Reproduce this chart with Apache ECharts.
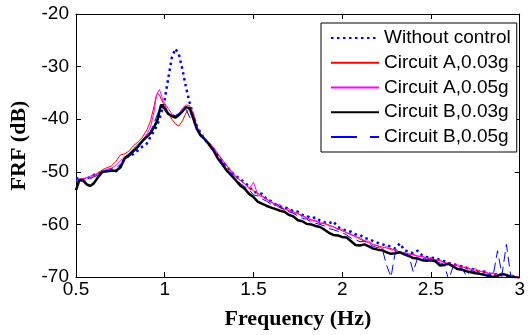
<!DOCTYPE html>
<html>
<head>
<meta charset="utf-8">
<script src="https://cdn.jsdelivr.net/npm/echarts@6/dist/echarts.min.js"></script>
<style>html,body{margin:0;padding:0;background:#fff}#c{width:528px;height:335px}</style>
</head>
<body>
<div id="c"></div>
<script>
var freq = [0.50,0.52,0.54,0.56,0.58,0.60,0.625,0.65,0.675,0.70,0.725,0.75,0.775,0.80,0.825,0.85,0.875,0.90,0.92,0.94,0.95,0.96,0.97,0.98,0.99,1.00,1.02,1.04,1.06,1.08,1.10,1.12,1.14,1.16,1.18,1.20,1.225,1.25,1.275,1.30,
1.325,1.35,1.375,1.40,1.425,1.45,1.475,1.50,1.525,1.55,1.575,1.60,1.625,1.65,1.675,1.70,1.725,1.75,1.775,1.80,1.825,1.85,1.875,1.90,1.925,1.95,1.975,2.00,2.025,2.05,2.075,2.10,2.125,2.15,2.175,2.20,2.225,2.25,2.275,2.30,2.325,2.35,2.375,2.40,2.425,2.45,2.475,2.50,2.525,2.55,2.575,2.60,2.625,2.65,2.675,2.70,2.725,2.75,2.775,2.80,2.825,2.85,2.875,2.90,2.925,2.95,2.975,3.00];

var withoutControl = [-51.2,-51.3,-51.5,-51.3,-51.0,-50.6,-50.3,-50.0,-49.8,-49.5,-49.9,-49.0,-47.4,-47.0,-46.6,-45.9,-45.2,-44.6,-43.3,-42.2,-41.6,-40.9,-40.0,-38.8,-37.6,-36.2,-32.2,-28.3,-26.6,-27.7,-30.6,-34.0,-36.8,-39.2,-41.2,-42.5,-43.8,-44.8,-45.8,-46.9,
-48.0,-49.0,-50.0,-50.8,-51.4,-52.0,-52.8,-53.8,-54.0,-54.2,-55.3,-55.6,-56.3,-56.6,-56.8,-57.0,-57.5,-57.6,-58.2,-58.4,-58.8,-58.7,-59.3,-59.6,-59.8,-59.4,-60.5,-60.9,-61.2,-61.4,-61.9,-62.0,-62.6,-62.8,-63.2,-63.5,-63.8,-64.0,-64.2,-64.6,-63.6,-64.9,-65.2,-65.5,-65.0,-65.9,-66.2,-66.4,-66.3,-66.8,-67.0,-67.4,-67.5,-67.8,-68.0,-68.3,-68.4,-68.7,-69.0,-69.0,-69.3,-69.6,-69.4,-69.7,-69.9,-69.7,-70.0,-70.2];

var circuitA003 = [-51.6,-51.4,-51.3,-51.1,-51.1,-50.7,-50.2,-49.6,-49.2,-48.9,-48.0,-46.8,-46.6,-46.0,-45.0,-44.3,-43.4,-42.0,-40.3,-37.5,-35.8,-35.0,-35.4,-36.2,-36.8,-37.2,-38.8,-40.0,-40.9,-41.3,-40.3,-38.8,-37.9,-38.6,-41.5,-43.0,-43.8,-44.5,-45.5,-46.6,
-47.7,-48.9,-50.0,-50.9,-51.6,-52.3,-53.0,-53.6,-54.1,-54.6,-55.2,-55.8,-56.3,-56.9,-57.1,-57.4,-57.6,-58.0,-58.3,-58.8,-59.1,-59.4,-59.7,-59.9,-60.1,-60.5,-60.8,-61.2,-61.6,-62.0,-62.3,-62.8,-63.2,-63.5,-63.8,-64.1,-64.3,-64.5,-64.6,-65.0,-65.2,-65.4,-65.6,-65.8,-66.0,-66.1,-66.3,-66.5,-66.7,-66.9,-67.2,-67.5,-67.7,-67.9,-68.1,-68.3,-68.5,-68.7,-68.9,-69.1,-69.3,-69.4,-69.5,-69.6,-69.7,-69.8,-69.9,-70.0];

var circuitA005 = [-51.8,-51.5,-51.4,-51.2,-50.8,-50.6,-50.4,-49.9,-49.5,-49.3,-48.8,-47.9,-47.2,-46.5,-45.6,-44.7,-44.0,-42.8,-41.5,-38.5,-36.2,-34.9,-34.4,-35.3,-36.5,-37.0,-38.0,-39.0,-39.4,-39.0,-37.9,-37.3,-37.4,-39.0,-41.3,-42.7,-43.6,-44.4,-45.4,-46.6,
-47.9,-48.8,-49.8,-50.9,-51.6,-52.2,-53.2,-52.0,-54.4,-54.8,-55.3,-55.6,-56.4,-56.2,-57.2,-57.0,-57.9,-57.8,-58.6,-58.6,-59.3,-59.2,-59.9,-59.6,-60.3,-60.4,-61.0,-60.9,-61.6,-61.8,-62.4,-62.5,-63.1,-63.2,-63.9,-64.0,-64.6,-64.2,-64.9,-64.7,-65.4,-65.3,-65.9,-65.6,-66.2,-66.0,-66.6,-66.3,-66.9,-66.7,-67.4,-67.3,-67.8,-67.6,-68.3,-68.0,-68.7,-68.4,-69.0,-68.8,-69.4,-69.2,-69.6,-69.5,-69.8,-69.6,-70.0,-70.1];

var circuitB003 = [-53.5,-51.5,-51.6,-52.4,-52.7,-52.2,-51.0,-50.0,-49.9,-49.8,-49.8,-49.2,-47.4,-46.8,-46.0,-45.2,-44.1,-43.3,-42.6,-41.5,-40.8,-40.0,-38.5,-37.2,-37.6,-38.0,-39.0,-39.4,-39.7,-39.2,-38.5,-37.7,-37.9,-39.8,-41.8,-43.0,-43.8,-44.8,-46.0,-47.5,
-48.6,-49.8,-50.7,-51.6,-52.6,-53.2,-54.2,-54.8,-55.7,-56.1,-56.5,-56.8,-57.1,-57.4,-57.6,-58.2,-58.5,-59.2,-59.4,-59.9,-60.0,-60.3,-60.5,-61.0,-61.6,-62.0,-62.1,-62.4,-62.5,-63.2,-63.9,-64.0,-63.8,-64.2,-64.6,-64.8,-64.9,-65.3,-65.6,-65.5,-65.3,-65.7,-66.0,-66.4,-66.5,-66.8,-66.9,-66.8,-67.0,-67.8,-67.7,-67.5,-68.0,-68.5,-68.6,-68.9,-69.1,-69.3,-69.4,-69.6,-69.8,-70.0,-69.8,-69.4,-69.6,-70.0,-70.1,-70.3];

var circuitB005 = [-51.9,-51.7,-51.9,-51.6,-51.3,-51.0,-50.6,-50.0,-49.7,-49.6,-49.3,-48.6,-47.8,-47.1,-46.2,-45.3,-44.3,-43.3,-42.3,-40.8,-39.8,-39.0,-38.2,-37.7,-37.8,-38.2,-38.9,-39.2,-39.3,-38.9,-38.4,-38.1,-39.6,-40.4,-41.6,-42.8,-43.7,-44.6,-45.7,-47.0,
-48.2,-49.3,-50.3,-51.3,-52.2,-52.8,-53.4,-54.4,-54.6,-55.2,-55.6,-56.2,-56.0,-56.7,-57.3,-57.6,-57.9,-58.4,-58.9,-59.0,-59.6,-59.8,-60.0,-60.3,-60.8,-61.0,-61.3,-61.6,-62.0,-62.6,-62.9,-63.3,-63.2,-63.7,-64.2,-64.4,-64.6,-67.8,-70.0,-65.0,-65.3,-65.6,-65.9,-69.0,-66.3,-66.4,-66.7,-66.9,-67.0,-67.3,-67.6,-70.6,-67.9,-68.2,-68.4,-69.8,-68.8,-69.0,-69.2,-69.4,-69.6,-69.8,-65.0,-69.6,-63.8,-69.9,-70.2,-70.3];

var seriesNames = ['Without control','Circuit A,0.03g','Circuit A,0.05g','Circuit B,0.03g','Circuit B,0.05g'];
var xTicks = [0.5, 3, 0.5];   // min, max, interval
var yTicks = [-70, -20, 10];  // min, max, interval

function pairs(v){ return freq.map(function(f,i){ return [f, v[i]]; }); }

var sans = "'Liberation Sans', Arial, sans-serif";
var serif = "'Liberation Serif', 'Times New Roman', serif";

var chart = echarts.init(document.getElementById('c'), null, {renderer:'canvas'});
var axisCommon = {
  axisLine:{show:true, onZero:false, lineStyle:{color:'#000', width:1}},
  axisTick:{show:true, inside:true, length:5, lineStyle:{color:'#000'}},
  splitLine:{show:false}
};
chart.setOption({
  animation:false,
  backgroundColor:'#fff',
  grid:{left:76, top:14, width:446, height:264, containLabel:false},
  xAxis:[
    Object.assign({type:'value', position:'bottom', min:xTicks[0], max:xTicks[1], interval:xTicks[2],
      axisLabel:{color:'#000', fontSize:19, fontFamily:sans, margin:3, formatter:function(v){return String(v);}},
      name:'Frequency (Hz)', nameLocation:'middle', nameGap:31,
      nameTextStyle:{color:'#000', fontSize:22, fontWeight:'bold', fontFamily:serif}}, axisCommon),
    Object.assign({type:'value', position:'top', min:xTicks[0], max:xTicks[1], interval:xTicks[2],
      axisLabel:{show:false}}, axisCommon)
  ],
  yAxis:[
    Object.assign({type:'value', position:'left', min:yTicks[0], max:yTicks[1], interval:yTicks[2],
      axisLabel:{color:'#000', fontSize:19, fontFamily:sans, margin:7},
      name:'FRF (dB)', nameLocation:'middle', nameGap:35,
      nameTextStyle:{color:'#000', fontSize:22, fontWeight:'bold', fontFamily:serif}}, axisCommon),
    Object.assign({type:'value', position:'right', min:yTicks[0], max:yTicks[1], interval:yTicks[2],
      axisLabel:{show:false}}, axisCommon)
  ],
  legend:{
    orient:'vertical', left:321, top:23,
    backgroundColor:'#fff', borderColor:'#000', borderWidth:1, borderRadius:0,
    padding:[5,6,5,9], itemWidth:48, itemHeight:20, itemGap:4.75,
    itemStyle:{opacity:0},
    textStyle:{color:'#000', fontSize:19, fontFamily:sans, lineHeight:20},
    data:[
      {name:seriesNames[0]},
      {name:seriesNames[1]},
      {name:seriesNames[2]},
      {name:seriesNames[3]},
      {name:seriesNames[4], lineStyle:{type:[26,13]}}
    ]
  },
  series:[
    {name:seriesNames[0], type:'line', data:pairs(withoutControl), symbol:'none', showSymbol:false,
      lineStyle:{color:'#0000ff', width:2.5, type:[2.5,3.5], cap:'butt'}, itemStyle:{color:'#0000ff'}, z:2},
    {name:seriesNames[1], type:'line', data:pairs(circuitA003), symbol:'none', showSymbol:false,
      lineStyle:{color:'#ff0000', width:1}, itemStyle:{color:'#ff0000'}, z:3},
    {name:seriesNames[2], type:'line', data:pairs(circuitA005), symbol:'none', showSymbol:false,
      lineStyle:{color:'#ff00ff', width:1}, itemStyle:{color:'#ff00ff'}, z:4},
    {name:seriesNames[3], type:'line', data:pairs(circuitB003), symbol:'none', showSymbol:false,
      lineStyle:{color:'#000000', width:2.5}, itemStyle:{color:'#000000'}, z:5},
    {name:seriesNames[4], type:'line', data:pairs(circuitB005), symbol:'none', showSymbol:false,
      lineStyle:{color:'#0000ff', width:1, type:[10,5]}, itemStyle:{color:'#0000ff'}, z:6}
  ]
});
</script>
</body>
</html>
